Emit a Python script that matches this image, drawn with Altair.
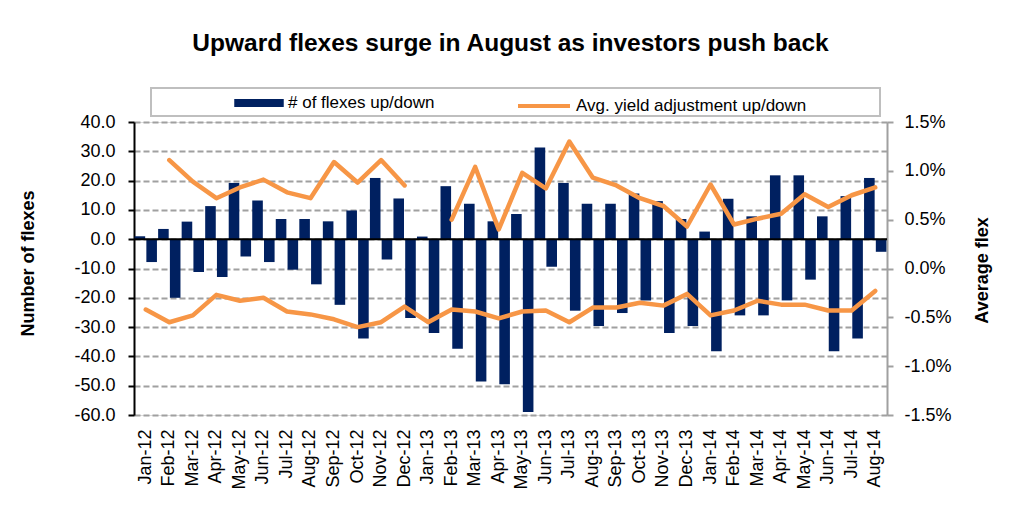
import altair as alt
import pandas as pd

months = ["Jan-12", "Feb-12", "Mar-12", "Apr-12", "May-12", "Jun-12", "Jul-12", "Aug-12",
          "Sep-12", "Oct-12", "Nov-12", "Dec-12", "Jan-13", "Feb-13", "Mar-13", "Apr-13",
          "May-13", "Jun-13", "Jul-13", "Aug-13", "Sep-13", "Oct-13", "Nov-13", "Dec-13",
          "Jan-14", "Feb-14", "Mar-14", "Apr-14", "May-14", "Jun-14", "Jul-14", "Aug-14"]

flexes_up = [1.0, 3.5, 6.0, 11.3, 19.2, 13.2, 6.9, 6.9, 6.1, 9.8, 20.9, 13.9,
             0.9, 18.1, 12.1, 6.1, 8.6, 31.3, 19.2, 12.1, 12.1, 15.6, 13.0, 6.9,
             2.6, 13.8, 7.8, 21.8, 21.8, 7.8, 14.7, 20.9]
flexes_down = [-7.8, -20.0, -11.2, -12.9, -5.9, -7.8, -10.4, -15.4, -22.4, -33.9, -6.9, -26.9,
               -32.0, -37.4, -48.6, -49.5, -59.0, -9.4, -24.4, -29.6, -25.2, -20.9, -32.0, -29.6,
               -38.2, -26.0, -26.0, -20.9, -13.8, -38.2, -33.9, -4.3]

yield_up = [None, 1.11, 0.89, 0.72, 0.83, 0.91, 0.78, 0.72, 1.09, 0.88, 1.11, 0.85,
            None, 0.50, 1.04, 0.40, 0.98, 0.82, 1.30, 0.93, 0.85, 0.72, 0.64, 0.43,
            0.86, 0.45, 0.51, 0.56, 0.76, 0.63, 0.75, 0.83]
yield_down = [-0.42, -0.55, -0.48, -0.27, -0.33, -0.30, -0.44, -0.47, -0.52, -0.60, -0.55, -0.39,
              -0.55, -0.42, -0.44, -0.51, -0.44, -0.43, -0.55, -0.40, -0.40, -0.35, -0.38, -0.26,
              -0.48, -0.43, -0.33, -0.37, -0.37, -0.43, -0.43, -0.23]

left_ticks = [-60, -50, -40, -30, -20, -10, 0, 10, 20, 30, 40]
right_ticks = [-1.5, -1.0, -0.5, 0.0, 0.5, 1.0, 1.5]

bar_label = "# of flexes up/down"
line_label = "Avg. yield adjustment up/down"
title_text = "Upward flexes surge in August as investors push back"

NAVY = "#002060"
ORANGE = "#F79646"
GRID = "#A0A0A0"
FONT = "Liberation Sans"

# ---- tables built from the arrays ----
bar_rows = []
for m, u, d in zip(months, flexes_up, flexes_down):
    bar_rows.append({"month": m, "kind": "up", "value": u, "lbl": bar_label})
    bar_rows.append({"month": m, "kind": "down", "value": d, "lbl": bar_label})
bars_df = pd.DataFrame(bar_rows)

line_rows = []
seg = 0
prev_valid = False
for m, v in zip(months, yield_up):
    if v is None:
        prev_valid = False
        continue
    if not prev_valid:
        seg += 1
    prev_valid = True
    line_rows.append({"month": m, "val": v, "seg": f"up{seg}", "lbl": line_label})
for m, v in zip(months, yield_down):
    line_rows.append({"month": m, "val": v, "seg": "down", "lbl": line_label})
lines_df = pd.DataFrame(line_rows)


def make_x_axis():
    return alt.Axis(labelAngle=270, labelFontSize=18, labelFont=FONT, labelColor="black",
                    labelPadding=14, labelOverlap=False, domain=False, ticks=False, tickSize=0,
                    grid=False, title=None)


def make_left_axis():
    return alt.Axis(values=left_ticks, orient="left", labelOverlap=False,
                    labelExpr="replace(format(datum.value, '.1f'), '\u2212', '-')",
                    labelFontSize=18, labelFont=FONT, labelColor="black", labelPadding=13,
                    domainColor="black", domainWidth=2, tickColor="black", tickSize=6,
                    tickWidth=2, grid=True, gridColor=GRID, gridDash=[6, 3], gridWidth=2,
                    title="Number of flexes", titleFontSize=18, titleFont=FONT,
                    titleFontWeight="bold", titleColor="black", titleX=-106, titleY=141,
                    titleAngle=270, titleAlign="center", titleBaseline="middle")


left_scale = alt.Scale(domain=[-60, 40], nice=False, zero=False)

bars = alt.Chart(bars_df).mark_bar(color=NAVY).encode(
    x=alt.X("month:N", sort=months, scale=alt.Scale(paddingInner=0, paddingOuter=0),
            axis=make_x_axis()),
    xOffset=alt.XOffset("kind:N", sort=["up", "down"],
                        scale=alt.Scale(paddingInner=0.1, paddingOuter=0.05)),
    y=alt.Y("value:Q", scale=left_scale, axis=make_left_axis(), title="Number of flexes"),
    color=alt.Color("lbl:N", scale=alt.Scale(domain=[bar_label], range=[NAVY]),
                    legend=alt.Legend(orient="none", legendX=100, legendY=-44, title=None,
                                      symbolType="M-1,-0.16H1V0.16H-1Z", symbolSize=2450,
                                      symbolStrokeWidth=0, labelFontSize=17, labelFont=FONT,
                                      labelColor="black", labelOffset=4, labelLimit=400,
                                      padding=0)),
)

zero_rule = alt.Chart(pd.DataFrame({"z": [0]})).mark_rule(color="black", strokeWidth=2).encode(
    y=alt.Y("z:Q", scale=left_scale, axis=make_left_axis(), title="Number of flexes")
)

legend_box = alt.Chart(pd.DataFrame({"a": [0]})).mark_rect(
    filled=False, stroke="#BFBFBF", strokeWidth=2
).encode(x=alt.value(17), x2=alt.value(746), y=alt.value(-34), y2=alt.value(-6))

left = alt.layer(bars, zero_rule, legend_box)

lines = alt.Chart(lines_df).mark_line(strokeWidth=4.5, strokeJoin="round", strokeCap="round").encode(
    x=alt.X("month:N", sort=months, axis=make_x_axis()),
    y=alt.Y("val:Q", scale=alt.Scale(domain=[-1.5, 1.5], nice=False, zero=False),
            axis=alt.Axis(values=right_ticks, orient="right", labelOverlap=False,
                          labelExpr="replace(format(datum.value, '.1f'), '\u2212', '-') + '%'",
                          labelFontSize=18, labelFont=FONT, labelColor="black", labelPadding=11,
                          domainColor=GRID, domainWidth=2, tickColor=GRID, tickSize=6,
                          tickWidth=2, grid=False,
                          title="Average flex", titleFontSize=18, titleFont=FONT,
                          titleFontWeight="bold", titleColor="black", titleX=95, titleY=148,
                          titleAngle=270, titleAlign="center", titleBaseline="middle")),
    detail="seg:N",
    stroke=alt.Stroke("lbl:N", scale=alt.Scale(domain=[line_label], range=[ORANGE]),
                      legend=alt.Legend(orient="none", legendX=382, legendY=-44, title=None,
                                        symbolType="stroke", symbolSize=2704,
                                        symbolStrokeWidth=4, labelFontSize=17, labelFont=FONT,
                                        labelColor="black", labelOffset=4, labelLimit=400,
                                        padding=0)),
)

chart = alt.layer(left, lines).resolve_scale(
    y="independent", color="independent", stroke="independent"
).properties(
    width=753,
    height=293,
    title=alt.TitleParams(title_text, fontSize=24.5, font=FONT, fontWeight="bold", color="black",
                          anchor="middle", frame="group", baseline="alphabetic", offset=3),
    autosize=alt.AutoSizeParams(type="none"),
    padding={"left": 126, "top": 114, "right": 127, "bottom": 97},
).configure_view(strokeWidth=0).configure(background="white")

chart.save("out.html", embed_options={"renderer": "svg", "actions": False})
